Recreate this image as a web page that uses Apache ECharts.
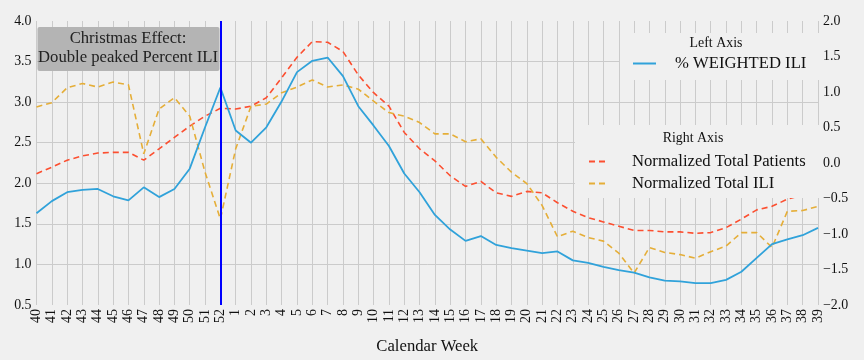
<!DOCTYPE html>
<html>
<head>
<meta charset="utf-8">
<script src="https://cdn.jsdelivr.net/npm/echarts@6/dist/echarts.min.js"></script>
<style>html,body{margin:0;padding:0;background:#f0f0f0;}#c{width:864px;height:360px;}</style>
</head>
<body>
<div id="c"></div>
<script>
const weeks = ['40','41','42','43','44','45','46','47','48','49','50','51','52',
  '1','2','3','4','5','6','7','8','9','10','11','12','13','14','15','16','17','18','19','20',
  '21','22','23','24','25','26','27','28','29','30','31','32','33','34','35','36','37','38','39'];
const weightedILI = [1.63,1.78,1.89,1.92,1.93,1.84,1.79,1.95,1.83,1.93,2.18,2.69,3.18,
  2.65,2.50,2.69,3.01,3.37,3.51,3.55,3.32,2.95,2.71,2.46,2.12,1.89,1.61,1.43,1.29,1.35,1.24,1.20,1.17,
  1.14,1.16,1.05,1.02,0.97,0.93,0.90,0.84,0.80,0.79,0.77,0.77,0.81,0.91,1.08,1.25,1.31,1.36,1.45];
const normPatients = [-0.15,-0.06,0.04,0.10,0.14,0.15,0.15,0.04,0.20,0.36,0.52,0.66,0.77,
  0.76,0.80,0.92,1.20,1.49,1.71,1.70,1.57,1.24,0.99,0.80,0.43,0.20,0.03,-0.18,-0.33,-0.26,-0.42,-0.47,-0.40,
  -0.42,-0.56,-0.68,-0.77,-0.83,-0.89,-0.95,-0.95,-0.97,-0.97,-0.99,-0.98,-0.91,-0.79,-0.66,-0.61,-0.51,-0.45,-0.37];
const normILI = [0.79,0.85,1.06,1.12,1.07,1.14,1.10,0.13,0.76,0.92,0.66,-0.13,-0.79,
  0.20,0.80,0.83,0.99,1.07,1.17,1.07,1.10,1.04,0.87,0.71,0.66,0.57,0.41,0.41,0.30,0.34,0.08,-0.13,-0.29,
  -0.60,-1.04,-0.96,-1.05,-1.10,-1.27,-1.55,-1.19,-1.26,-1.29,-1.34,-1.25,-1.17,-0.98,-0.98,-1.19,-0.68,-0.67,-0.61];
const markWeek = '52';

const FONT = '"Liberation Serif", "Times New Roman", serif';
const chart = echarts.init(document.getElementById('c'), null, {renderer:'canvas'});
chart.setOption({
  backgroundColor: '#f0f0f0',
  animation: false,
  textStyle: {fontFamily: FONT},
  grid: {left: 36.5, right: 46, top: 21, bottom: 53},
  xAxis: {
    type: 'category', data: weeks, boundaryGap: false,
    name: 'Calendar Week', nameLocation: 'middle', nameGap: 33,
    nameTextStyle: {fontFamily: FONT, fontSize: 16.67, color: '#111'},
    axisLine: {show: false}, axisTick: {show: false},
    axisLabel: {rotate: 90, interval: 0, fontFamily: FONT, fontSize: 13.9, color: '#111', margin: 4},
    splitLine: {show: true, interval: 0, lineStyle: {color: '#cbcbcb', width: 1}}
  },
  yAxis: [{
    type: 'value', min: 0.5, max: 4.0, interval: 0.5,
    axisLine: {show: false}, axisTick: {show: false},
    axisLabel: {fontFamily: FONT, fontSize: 13.9, color: '#111', margin: 5, formatter: v => v.toFixed(1)},
    splitLine: {show: true, showMinLine: false, showMaxLine: false, lineStyle: {color: '#cbcbcb', width: 1}}
  },{
    type: 'value', min: -2.0, max: 2.0, interval: 0.5,
    axisLine: {show: false}, axisTick: {show: false},
    axisLabel: {fontFamily: FONT, fontSize: 13.9, color: '#111', margin: 5,
      formatter: v => v.toFixed(1).replace('-', '\u2212')},
    splitLine: {show: false}
  }],
  legend: [{
    data: ['% WEIGHTED ILI'],
    left: 620, top: 33, orient: 'vertical',
    backgroundColor: '#f0f0f0', padding: [22, 14, 8, 12],
    itemWidth: 23, itemHeight: 14,
    itemStyle: {opacity: 0},
    textStyle: {fontFamily: FONT, fontSize: 16.67, color: '#111', padding: [0,0,0,14]},
    z: 5
  },{
    data: ['Normalized Total Patients', 'Normalized Total ILI'],
    left: 575, top: 125, orient: 'vertical', itemGap: 5,
    backgroundColor: '#f0f0f0', padding: [28, 14, 6, 13],
    itemWidth: 18, itemHeight: 14,
    itemStyle: {opacity: 0},
    textStyle: {fontFamily: FONT, fontSize: 16.67, color: '#111', padding: [0,0,0,20]},
    z: 5
  }],
  graphic: [
    {type: 'rect', left: 37.5, top: 27, z: 20, shape: {width: 182, height: 44, r: 2},
     style: {fill: '#b4b4b4'}},
    {type: 'text', x: 128, y: 29, z: 21,
     style: {text: 'Christmas Effect:\nDouble peaked Percent ILI', font: '16.67px ' + FONT,
       fill: '#222', align: 'center', textAlign: 'center', lineHeight: 19}},
    {type: 'text', x: 716, y: 36, z: 21,
     style: {text: 'Left Axis', font: '13.9px ' + FONT, fill: '#111', align: 'center', textAlign: 'center'}},
    {type: 'text', x: 693, y: 131, z: 21,
     style: {text: 'Right Axis', font: '13.9px ' + FONT, fill: '#111', align: 'center', textAlign: 'center'}}
  ],
  series: [{
    name: '% WEIGHTED ILI', type: 'line', data: weightedILI, yAxisIndex: 0,
    symbol: 'none', lineStyle: {color: '#30a2da', width: 1.8}, itemStyle: {color: '#30a2da'},
    z: 3,
    markLine: {silent: true, symbol: 'none', label: {show: false},
      lineStyle: {color: '#0000ff', width: 2, type: 'solid'},
      data: [{xAxis: markWeek}]}
  },{
    name: 'Normalized Total Patients', type: 'line', data: normPatients, yAxisIndex: 1,
    symbol: 'none', lineStyle: {color: '#fc4f30', width: 1.6, type: [6, 4]}, itemStyle: {color: '#fc4f30'},
    z: 2
  },{
    name: 'Normalized Total ILI', type: 'line', data: normILI, yAxisIndex: 1,
    symbol: 'none', lineStyle: {color: '#e5ae38', width: 1.6, type: [6, 4]}, itemStyle: {color: '#e5ae38'},
    z: 2
  }]
});
</script>
</body>
</html>
